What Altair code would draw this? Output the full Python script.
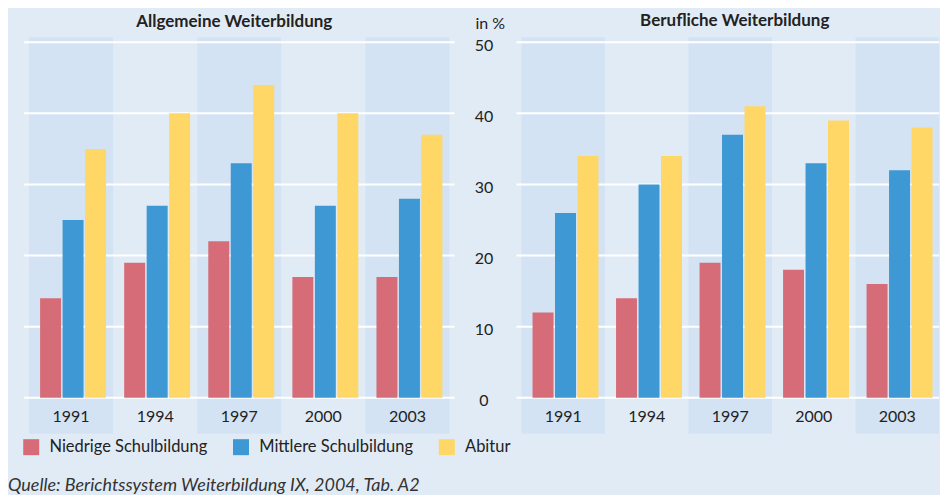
import altair as alt
import pandas as pd

years = ["1991", "1994", "1997", "2000", "2003"]
groups = ["Niedrige Schulbildung", "Mittlere Schulbildung", "Abitur"]
colors = ["#d66c77", "#3d98d3", "#ffd766"]

allg_niedrig = [14, 19, 22, 17, 17]
allg_mittel = [25, 27, 33, 27, 28]
allg_abitur = [35, 40, 44, 40, 37]

beruf_niedrig = [12, 14, 19, 18, 16]
beruf_mittel = [26, 30, 37, 33, 32]
beruf_abitur = [34, 34, 41, 39, 38]

stripe_years = ["1991", "1997", "2003"]
grid_values = [0, 10, 20, 30, 40, 50]
source_text = "Quelle: Berichtssystem Weiterbildung IX, 2004, Tab. A2"
unit_text = "in %"

BG = "#e1ebf6"
STRIPE = "#d3e3f3"
FONT = "Lato"
H = 356


def make_df(a, b, c):
    rows = []
    for i, y in enumerate(years):
        for g, vals in zip(groups, (a, b, c)):
            rows.append({"year": y, "group": g, "value": vals[i]})
    return pd.DataFrame(rows)


yscale = alt.Scale(domain=[0, 50], nice=False)
offset_scale = alt.Scale(domain=groups, paddingInner=0.067,
                         paddingOuter=0.404, align=0.61)


def panel(df, title, W, xscale, show_axis, dx, offset, with_source):
    xaxis = alt.Axis(title=None, domain=False, ticks=False, grid=False,
                     labelPadding=11, labelFontSize=16, labelColor="#222",
                     labelFont=FONT, labelAngle=0)
    if show_axis:
        yaxis = alt.Axis(title=None,
                         values=grid_values, domain=False, ticks=False,
                         grid=False, labelAlign="center", labelPadding=33,
                         labelFontSize=16, labelBaseline="middle",
                         labelOffset=3,
                         labelColor="#222", labelFont=FONT)
    else:
        yaxis = None

    stripes = alt.Chart(pd.DataFrame({"year": stripe_years})).mark_rect(
        color=STRIPE).encode(
        x=alt.X("year:N", scale=xscale, axis=xaxis),
        y=alt.value(-5), y2=alt.value(392))

    grid = alt.Chart(pd.DataFrame({"value": grid_values})).mark_rule(
        color="white", strokeWidth=2).encode(
        y=alt.Y("value:Q", scale=yscale, axis=yaxis),
        x=alt.value(0), x2=alt.value(W))

    bars = alt.Chart(df).mark_bar().encode(
        x=alt.X("year:N", scale=xscale, axis=xaxis),
        xOffset=alt.XOffset("group:N", scale=offset_scale),
        y=alt.Y("value:Q", scale=yscale, axis=yaxis),
        color=alt.Color("group:N", scale=alt.Scale(domain=groups, range=colors),
                        legend=alt.Legend(title=None)))

    layers = [stripes, grid, bars]
    if with_source:
        src = alt.Chart(pd.DataFrame({"t": [source_text]})).mark_text(
            align="left", baseline="middle", fontStyle="italic", fontSize=18,
            color="#333", font=FONT).encode(
            text="t:N", x=alt.value(-16), y=alt.value(444))
        layers.append(src)
    if show_axis:
        unit = alt.Chart(pd.DataFrame({"t": [unit_text]})).mark_text(
            align="left", baseline="middle", fontSize=16,
            color="#222", font=FONT).encode(
            text="t:N", x=alt.value(-41), y=alt.value(-18))
        layers.append(unit)

    return alt.layer(*layers).properties(
        width=W, height=H,
        title=alt.TitleParams(title, fontSize=17, font=FONT, fontWeight="bold",
                              color="#222", anchor="middle", frame="group",
                              dx=dx, offset=offset))


left = panel(make_df(allg_niedrig, allg_mittel, allg_abitur),
             "Allgemeine Weiterbildung", 431,
             alt.Scale(domain=years, paddingInner=0, paddingOuter=0.06),
             False, -5, 6, True)
right = panel(make_df(beruf_niedrig, beruf_mittel, beruf_abitur),
              "Berufliche Weiterbildung", 423,
              alt.Scale(domain=years, paddingInner=0, paddingOuter=0.03,
                        align=1),
              True, 7, -14, False)

chart = alt.hconcat(left, right, spacing=62, bounds="flush").properties(
    padding={"left": 0, "top": 4, "right": 0, "bottom": 0},
    background=BG,
).configure_view(stroke=None).configure_legend(
    orient="none", legendX=-1, legendY=397, direction="horizontal",
    symbolType="square", symbolSize=256, symbolStrokeWidth=0,
    labelFontSize=16.5, labelFont=FONT, labelColor="#222", labelOffset=10,
    labelLimit=400, columnPadding=25,
)

chart.save("out.html", embed_options={"renderer": "svg", "actions": False})
